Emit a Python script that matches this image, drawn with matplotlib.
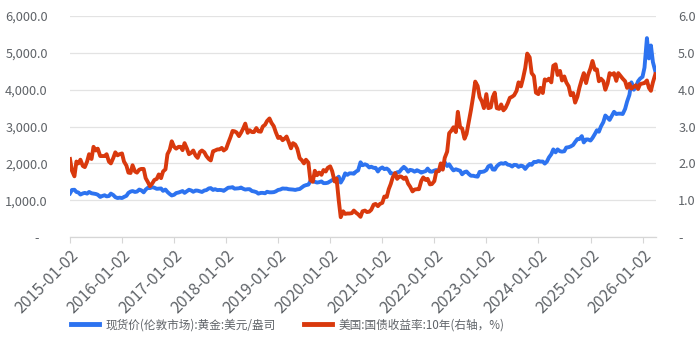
import numpy as np
import pandas as pd
import matplotlib
matplotlib.use("Agg")
import matplotlib.pyplot as plt
import matplotlib.dates as mdates
from matplotlib.ticker import FuncFormatter

plt.rcParams['font.family'] = ['Noto Sans CJK SC', 'DejaVu Sans']

# semi-monthly observations (1st and 15th of each month)
dates = pd.date_range('2015-01-01', '2026-04-01', freq='SMS')

gold = [
    # 2015
    1185, 1280, 1285, 1225, 1210, 1155, 1185, 1200, 1180, 1225, 1190, 1180,
    1170, 1150, 1090, 1115, 1135, 1105, 1115, 1180, 1140, 1085, 1060, 1070,
    # 2016
    1060, 1090, 1120, 1200, 1235, 1250, 1225, 1235, 1290, 1270, 1215, 1290,
    1340, 1330, 1355, 1340, 1310, 1315, 1320, 1255, 1290, 1225, 1170, 1130,
    # 2017
    1150, 1195, 1210, 1230, 1250, 1200, 1245, 1285, 1265, 1230, 1265, 1260,
    1240, 1225, 1265, 1275, 1320, 1330, 1280, 1300, 1275, 1280, 1275, 1255,
    # 2018
    1300, 1340, 1345, 1355, 1315, 1320, 1325, 1345, 1310, 1290, 1300, 1300,
    1250, 1240, 1220, 1180, 1200, 1200, 1190, 1230, 1215, 1215, 1220, 1240,
    # 2019
    1280, 1290, 1320, 1315, 1315, 1300, 1295, 1290, 1280, 1295, 1305, 1345,
    1390, 1410, 1425, 1515, 1525, 1500, 1480, 1490, 1510, 1465, 1465, 1475,
    # 2020
    1515, 1550, 1585, 1580, 1640, 1480, 1590, 1730, 1690, 1730, 1730, 1720,
    1780, 1810, 2030, 1950, 1975, 1955, 1890, 1910, 1880, 1880, 1780, 1855,
    # 2021
    1890, 1845, 1860, 1820, 1730, 1725, 1710, 1760, 1770, 1840, 1905, 1860,
    1775, 1825, 1810, 1775, 1815, 1790, 1750, 1770, 1790, 1860, 1780, 1775,
    # 2022
    1805, 1820, 1800, 1855, 1910, 2030, 1930, 1975, 1880, 1810, 1840, 1820,
    1800, 1705, 1765, 1780, 1710, 1665, 1665, 1650, 1640, 1770, 1770, 1780,
    # 2023
    1820, 1920, 1950, 1835, 1830, 1920, 1980, 2005, 1990, 2015, 1965, 1955,
    1915, 1960, 1955, 1905, 1940, 1925, 1850, 1920, 1985, 1960, 2040, 2035,
    # 2024
    2065, 2050, 2050, 1995, 2050, 2160, 2250, 2380, 2300, 2380, 2330, 2320,
    2330, 2430, 2440, 2460, 2500, 2580, 2660, 2660, 2740, 2570, 2650, 2650,
    # 2025
    2620, 2690, 2800, 2900, 2860, 3000, 3120, 3300, 3240, 3180, 3300, 3400,
    3340, 3350, 3350, 3340, 3480, 3680, 3860, 4200, 4000, 4080, 4230, 4300,
    # 2026
    4350, 4600, 5400, 4850, 5200, 4750, 4500,
]

yld = [
    # 2015
    2.12, 1.80, 1.65, 2.05, 2.00, 2.10, 1.93, 1.90, 2.05, 2.25, 2.12, 2.45,
    2.35, 2.40, 2.20, 2.20, 2.20, 2.25, 2.05, 2.00, 2.15, 2.30, 2.22, 2.25,
    # 2016
    2.27, 2.05, 1.94, 1.75, 1.74, 1.95, 1.78, 1.75, 1.83, 1.85, 1.85, 1.60,
    1.49, 1.38, 1.46, 1.55, 1.58, 1.70, 1.60, 1.78, 1.84, 2.25, 2.37, 2.60,
    # 2017
    2.45, 2.40, 2.45, 2.45, 2.36, 2.55, 2.40, 2.25, 2.29, 2.35, 2.21, 2.15,
    2.31, 2.35, 2.30, 2.20, 2.12, 2.08, 2.33, 2.35, 2.38, 2.38, 2.42, 2.35,
    # 2018
    2.40, 2.55, 2.72, 2.88, 2.87, 2.84, 2.74, 2.83, 2.95, 3.08, 2.83, 2.90,
    2.85, 2.85, 2.96, 2.87, 2.86, 3.00, 3.05, 3.15, 3.22, 3.10, 3.01, 2.85,
    # 2019
    2.69, 2.72, 2.63, 2.67, 2.73, 2.59, 2.41, 2.55, 2.51, 2.40, 2.14, 2.09,
    2.00, 2.10, 2.02, 1.55, 1.50, 1.80, 1.68, 1.75, 1.69, 1.82, 1.78, 1.88,
    # 2020
    1.92, 1.79, 1.51, 1.59, 1.00, 0.54, 0.70, 0.63, 0.64, 0.64, 0.65, 0.72,
    0.66, 0.62, 0.55, 0.70, 0.72, 0.68, 0.69, 0.74, 0.88, 0.90, 0.84, 0.90,
    # 2021
    0.93, 1.10, 1.09, 1.30, 1.44, 1.62, 1.74, 1.58, 1.65, 1.64, 1.58, 1.62,
    1.45, 1.37, 1.24, 1.29, 1.30, 1.30, 1.52, 1.62, 1.55, 1.58, 1.43, 1.44,
    # 2022
    1.52, 1.78, 1.79, 2.00, 1.83, 2.15, 2.32, 2.82, 2.89, 2.98, 2.85, 3.40,
    2.98, 2.95, 2.67, 2.80, 3.15, 3.45, 3.83, 4.22, 4.10, 3.80, 3.68, 3.50,
    # 2023
    3.88, 3.50, 3.52, 3.80, 3.92, 3.50, 3.48, 3.60, 3.44, 3.50, 3.64, 3.78,
    3.81, 3.85, 3.97, 4.20, 4.09, 4.30, 4.59, 4.98, 4.88, 4.45, 4.37, 3.92,
    # 2024
    3.88, 4.05, 3.91, 4.28, 4.25, 4.30, 4.20, 4.65, 4.69, 4.40, 4.51, 4.25,
    4.36, 4.20, 4.09, 3.85, 3.91, 3.65, 3.81, 4.05, 4.28, 4.45, 4.18, 4.40,
    # 2025
    4.58, 4.78, 4.54, 4.55, 4.23, 4.30, 4.23, 4.00, 4.17, 4.45, 4.41, 4.45,
    4.24, 4.45, 4.37, 4.30, 4.23, 4.05, 4.16, 4.03, 4.08, 4.12, 4.02, 4.15,
    # 2026
    4.17, 4.18, 4.25, 4.05, 3.97, 4.20, 4.42,
]

label_gold = '现货价(伦敦市场):黄金:美元/盎司'
label_yld = '美国:国债收益率:10年(右轴，%)'
tick_years = list(range(2015, 2027))

blue = '#2d73f0'
red = '#d9390d'
txt = '#5f6368'
grid = '#e3e3e3'

fig = plt.figure(figsize=(7, 3.56), dpi=100)
ax = fig.add_axes([0.1, 0.334, 0.837, 0.621])
ax2 = ax.twinx()

l1, = ax.plot(dates, gold, color=blue, lw=2.8, label=label_gold, solid_joinstyle='round')
l2, = ax2.plot(dates, yld, color=red, lw=2.8, label=label_yld, solid_joinstyle='round')

ax.set_ylim(0, 6000)
ax2.set_ylim(0, 6)
ax.set_yticks(np.arange(0, 6001, 1000))
ax2.set_yticks(np.arange(0, 7, 1))
ax.yaxis.set_major_formatter(FuncFormatter(lambda v, p: '-   ' if v == 0 else f'{v:,.1f}'))
ax2.yaxis.set_major_formatter(FuncFormatter(lambda v, p: '-' if v == 0 else f'{v:.1f}'))

ax.set_xlim(dates[0], pd.Timestamp('2026-04-05'))
ax.set_xticks([pd.Timestamp(f'{y}-01-02') for y in tick_years])
ax.xaxis.set_major_formatter(mdates.DateFormatter('%Y-%m-%d'))

ax.grid(axis='y', color=grid, lw=0.9)
ax.set_axisbelow(True)
for a in (ax, ax2):
    for s in ('top', 'left', 'right'):
        a.spines[s].set_visible(False)
    a.spines['bottom'].set_color('#d6d6d6')
ax.tick_params(axis='y', length=0, pad=16, labelsize=9.2, labelcolor=txt)
ax2.tick_params(axis='y', length=0, pad=16, labelsize=9.2, labelcolor=txt)
ax.tick_params(axis='x', length=4, color='#d6d6d6', labelsize=11.5, labelcolor=txt, pad=3)
plt.setp(ax.get_xticklabels(), rotation=45, ha='right', rotation_mode='anchor')

leg = fig.legend(handles=[l1, l2], loc='center left', bbox_to_anchor=(0.086, 0.088),
                 ncol=2, frameon=False, fontsize=8.4, handlelength=2.4,
                 handletextpad=0.6, columnspacing=2.4)
for t in leg.get_texts():
    t.set_color(txt)
for h in leg.get_lines():
    h.set_linewidth(3.5)

fig.savefig('out.png', dpi=100)
